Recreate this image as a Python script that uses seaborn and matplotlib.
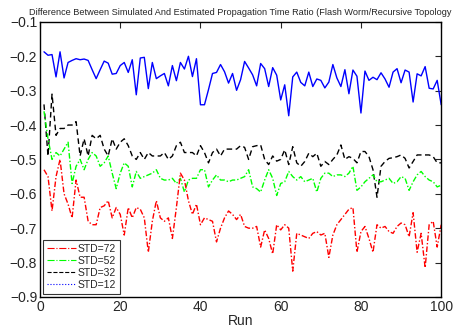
import numpy as np
import pandas as pd
import matplotlib
matplotlib.use("Agg")
import matplotlib.pyplot as plt
from matplotlib.lines import Line2D
import seaborn as sns

# run index
runs = list(range(1, 101))

# STD=12 (blue)
std12 = [-0.187, -0.197, -0.195, -0.260, -0.187, -0.263, -0.218, -0.212, -0.207, -0.210,
         -0.208, -0.212, -0.239, -0.265, -0.239, -0.214, -0.220, -0.252, -0.250, -0.227,
         -0.218, -0.247, -0.210, -0.312, -0.205, -0.203, -0.294, -0.218, -0.265, -0.257,
         -0.250, -0.286, -0.227, -0.271, -0.218, -0.237, -0.200, -0.259, -0.207, -0.341,
         -0.341, -0.297, -0.250, -0.247, -0.224, -0.245, -0.278, -0.250, -0.299, -0.268,
         -0.215, -0.234, -0.254, -0.286, -0.221, -0.236, -0.288, -0.233, -0.255, -0.327,
         -0.283, -0.373, -0.260, -0.246, -0.276, -0.286, -0.246, -0.288, -0.266, -0.270,
         -0.292, -0.275, -0.224, -0.263, -0.288, -0.239, -0.309, -0.240, -0.258, -0.365,
         -0.243, -0.270, -0.261, -0.268, -0.248, -0.266, -0.290, -0.246, -0.236, -0.277,
         -0.240, -0.246, -0.333, -0.251, -0.257, -0.230, -0.293, -0.295, -0.270, -0.341]

# STD=32 (black)
std32 = [-0.34, -0.49, -0.31, -0.43, -0.41, -0.41, -0.40, -0.40, -0.39, -0.49,
         -0.44, -0.49, -0.43, -0.44, -0.43, -0.47, -0.49, -0.44, -0.47, -0.45,
         -0.44, -0.46, -0.49, -0.50, -0.48, -0.50, -0.48, -0.49, -0.49, -0.49,
         -0.48, -0.50, -0.49, -0.46, -0.45, -0.48, -0.48, -0.48, -0.49, -0.46,
         -0.48, -0.51, -0.48, -0.47, -0.49, -0.47, -0.47, -0.47, -0.47, -0.46,
         -0.465, -0.50, -0.463, -0.46, -0.458, -0.50, -0.515, -0.49, -0.505, -0.50,
         -0.472, -0.515, -0.463, -0.51, -0.52, -0.506, -0.482, -0.492, -0.482, -0.52,
         -0.506, -0.515, -0.50, -0.487, -0.458, -0.50, -0.492, -0.497, -0.51, -0.477,
         -0.477, -0.492, -0.53, -0.61, -0.52, -0.506, -0.497, -0.495, -0.492, -0.487,
         -0.497, -0.525, -0.506, -0.487, -0.487, -0.487, -0.487, -0.492, -0.51, -0.51]

# STD=52 (green)
std52 = [-0.36, -0.44, -0.50, -0.48, -0.49, -0.47, -0.45, -0.57, -0.52, -0.50,
         -0.53, -0.50, -0.48, -0.49, -0.52, -0.51, -0.49, -0.54, -0.585, -0.54,
         -0.51, -0.52, -0.58, -0.535, -0.555, -0.55, -0.545, -0.54, -0.53, -0.555,
         -0.56, -0.56, -0.555, -0.57, -0.555, -0.595, -0.56, -0.555, -0.555, -0.53,
         -0.53, -0.58, -0.56, -0.545, -0.56, -0.56, -0.565, -0.56, -0.56, -0.555,
         -0.55, -0.53, -0.58, -0.585, -0.595, -0.56, -0.53, -0.555, -0.605, -0.57,
         -0.565, -0.535, -0.55, -0.56, -0.55, -0.565, -0.56, -0.555, -0.595, -0.555,
         -0.54, -0.54, -0.55, -0.545, -0.545, -0.55, -0.54, -0.52, -0.59, -0.58,
         -0.565, -0.555, -0.545, -0.565, -0.565, -0.56, -0.555, -0.57, -0.565, -0.55,
         -0.555, -0.59, -0.565, -0.545, -0.535, -0.55, -0.56, -0.565, -0.58, -0.575]

# STD=72 (red)
std72 = [-0.53, -0.55, -0.65, -0.55, -0.50, -0.60, -0.63, -0.67, -0.56, -0.61,
         -0.61, -0.68, -0.69, -0.69, -0.64, -0.635, -0.62, -0.67, -0.64, -0.66,
         -0.72, -0.64, -0.67, -0.64, -0.645, -0.67, -0.77, -0.68, -0.62, -0.67,
         -0.68, -0.67, -0.73, -0.64, -0.54, -0.56, -0.62, -0.66, -0.63, -0.69,
         -0.67, -0.675, -0.68, -0.74, -0.70, -0.67, -0.65, -0.66, -0.675, -0.66,
         -0.695, -0.70, -0.70, -0.695, -0.755, -0.705, -0.73, -0.775, -0.69, -0.705,
         -0.69, -0.70, -0.825, -0.715, -0.72, -0.725, -0.73, -0.715, -0.71, -0.72,
         -0.715, -0.785, -0.72, -0.69, -0.675, -0.66, -0.645, -0.64, -0.77, -0.71,
         -0.695, -0.73, -0.77, -0.69, -0.70, -0.695, -0.71, -0.715, -0.695, -0.685,
         -0.69, -0.725, -0.655, -0.77, -0.715, -0.815, -0.69, -0.68, -0.755, -0.69]

labels = ["STD=72", "STD=52", "STD=32", "STD=12"]
xticks = [0, 20, 40, 60, 80, 100]
yticks = [-0.1, -0.2, -0.3, -0.4, -0.5, -0.6, -0.7, -0.8, -0.9]

sns.set_style("white")
plt.rcParams['font.family'] = ['Liberation Sans', 'DejaVu Sans']

fig = plt.figure(figsize=(4.58, 3.27), dpi=100)
ax = fig.add_axes([0.0873, 0.092, 0.876, 0.841])

sns.lineplot(x=runs, y=std12, ax=ax, color='#0000ff', linewidth=1.0, linestyle='-')
sns.lineplot(x=runs, y=std32, ax=ax, color='black', linewidth=1.0, linestyle=(0, (4, 2.5)))
sns.lineplot(x=runs, y=std52, ax=ax, color='#00ff00', linewidth=1.0, linestyle=(0, (4, 1.5, 1, 1.5)))
sns.lineplot(x=runs, y=std72, ax=ax, color='#ff0000', linewidth=1.0, linestyle=(0, (4, 1.5, 1, 1.5)))

ax.set_xlim(0, 100)
ax.set_ylim(-0.9, -0.1)
ax.set_xticks(xticks)
ax.set_yticks(yticks)
ax.set_xticklabels([str(t) for t in xticks], fontsize=10)
ax.set_yticklabels(['\u2212' + f"{abs(t):.1f}" for t in yticks], fontsize=10)
ax.tick_params(direction='in', length=4.5, width=0.8, top=True, right=True, pad=2)
for s in ax.spines.values():
    s.set_color('black')
    s.set_linewidth(1.0)

ax.set_xlabel('Run', fontsize=10, labelpad=0)
ax.set_title('Difference Between Simulated And Estimated Propagation Time Ratio (Flash Worm/Recursive Topology',
             fontsize=6.6, pad=5)

handles = [
    Line2D([], [], color='#ff0000', linewidth=0.8, linestyle='-.'),
    Line2D([], [], color='#00ff00', linewidth=0.8, linestyle='-.'),
    Line2D([], [], color='black', linewidth=0.8, linestyle='--'),
    Line2D([], [], color='#0000ff', linewidth=0.8, linestyle=':'),
]
leg = ax.legend(handles, labels, loc='lower left', fontsize=7.5, frameon=True, fancybox=False,
                borderaxespad=0.3, handlelength=2.8, labelspacing=0.2, borderpad=0.35,
                handletextpad=0.2)
leg.get_frame().set_edgecolor('black')
leg.get_frame().set_linewidth(0.8)

fig.savefig('out.png', dpi=100)
